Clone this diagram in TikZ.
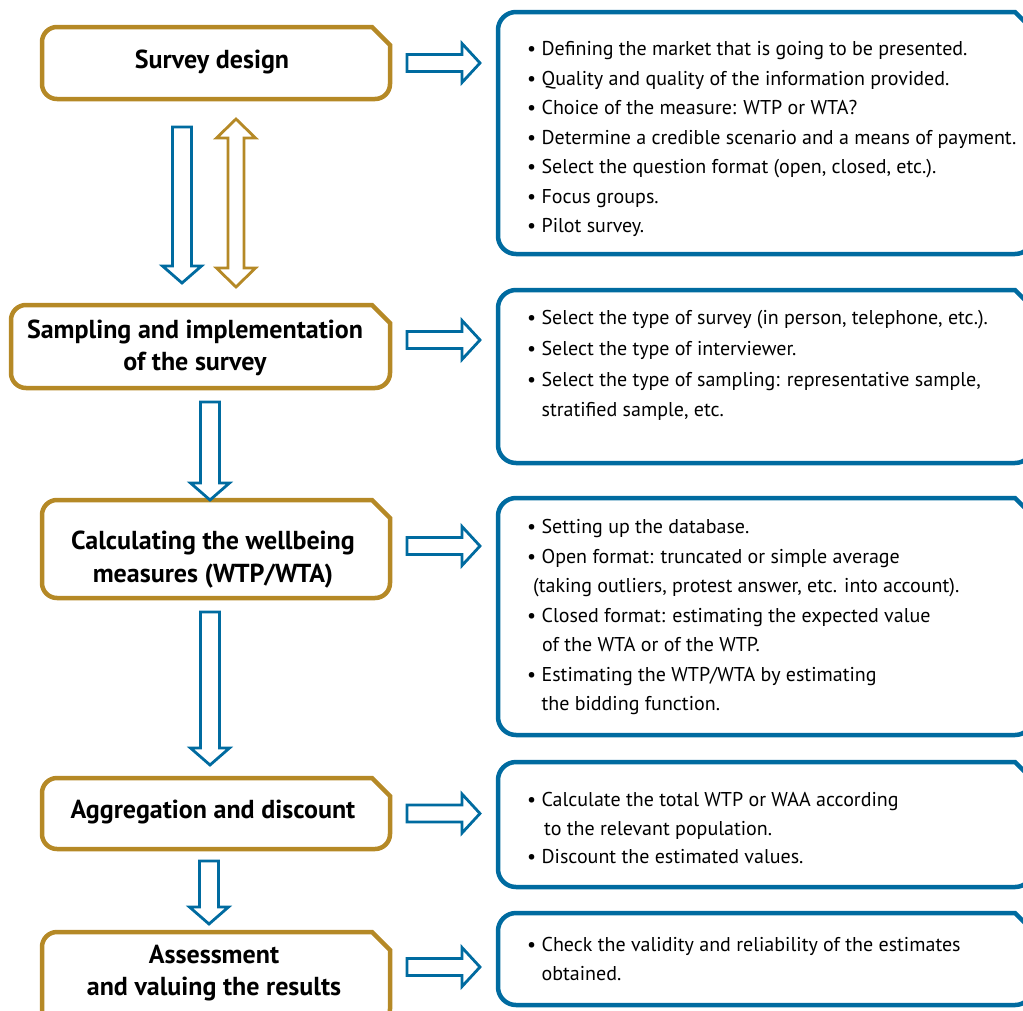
\documentclass[tikz,border=0pt]{standalone}
\usepackage{fontspec}
\setmainfont{PT Sans}
\usetikzlibrary{calc}
\definecolor{gold}{RGB}{181,137,38}
\definecolor{bluec}{RGB}{0,107,160}
\tikzset{
  boxnode/.style={inner sep=0pt, outer sep=0pt},
  title/.style={font=\fontsize{26}{32.5}\selectfont\bfseries, align=center, inner sep=0pt},
  items/.style={font=\fontsize{20}{29.5}\selectfont, align=left, anchor=north west, inner sep=0pt},
  arrowline/.style={line width=2.8pt, line join=miter, fill=white},
}
% box with cut top-right corner: name, colour, radius, line width
\newcommand\cutbox[4]{%
  \draw[draw=#2, line width=#4] let \p1=(#1.north west), \p2=(#1.south east) in
  (\x2-18,\y1) -- (\x2,\y1-18) -- (\x2,\y2+#3) arc(0:-90:#3) -- (\x1+#3,\y2)
  arc(270:180:#3) -- (\x1,\y1-#3) arc(180:90:#3) -- cycle;}
% horizontal block arrow: tail point, length, colour
\newcommand\harrow[3]{%
  \draw[arrowline,draw=#3,shift={#1}] (0,-8.5) -- (#2-18,-8.5) -- (#2-18,-19.5) -- (#2,0)
  -- (#2-18,19.5) -- (#2-18,8.5) -- (0,8.5) -- cycle;}
% vertical (downward) block arrow: tail point, length, colour
\newcommand\varrow[3]{%
  \draw[arrowline,draw=#3,shift={#1}] (-9.5,0) -- (-9.5,-#2+17) -- (-19.5,-#2+17) -- (0,-#2)
  -- (19.5,-#2+17) -- (9.5,-#2+17) -- (9.5,0) -- cycle;}
\begin{document}
\begin{tikzpicture}[x=1pt,y=1pt]
\useasboundingbox (0,0) rectangle (1023,-1010);
% left boxes
\node[boxnode, minimum width=348, minimum height=72] (b1) at (216,-63) {};
\node[boxnode, minimum width=379, minimum height=83] (b2) at (200.5,-346.5) {};
\node[boxnode, minimum width=348, minimum height=98] (b3) at (216,-549) {};
\node[boxnode, minimum width=348, minimum height=71] (b4) at (216,-813.5) {};
\node[boxnode, minimum width=348, minimum height=92] (b5) at (216,-978) {};
\foreach \b in {b1,b2,b3,b4,b5}{\cutbox{\b}{gold}{15}{4.5pt}}
\node[title] (t1) at (212,-62) {Survey design};
\node[title] (t2) at (195,-348) {Sampling and implementation\\of the survey};
\node[title] (t3) at (213,-559.5) {Calculating the wellbeing\\measures (WTP/WTA)};
\node[title] (t4) at (213,-812) {Aggregation and discount};
\node[title] (t5) at (214,-973) {Assessment\\and valuing the results};
% right boxes
\node[boxnode, minimum width=535, minimum height=242] (r1) at (765.5,-133) {};
\node[boxnode, minimum width=535, minimum height=173] (r2) at (765.5,-376.5) {};
\node[boxnode, minimum width=535, minimum height=237] (r3) at (765.5,-616.5) {};
\node[boxnode, minimum width=535, minimum height=125] (r4) at (765.5,-824.5) {};
\node[boxnode, minimum width=535, minimum height=92] (r5) at (765.5,-959) {};
\foreach \r in {r1,r2,r3,r4,r5}{\cutbox{\r}{bluec}{18}{4.5pt}}
\node[items] (i1) at (527,-41.5) {• Defining the market that is going to be presented.\\
• Quality and quality of the information provided.\\
• Choice of the measure: WTP or WTA?\\
• Determine a credible scenario and a means of payment.\\
• Select the question format (open, closed, etc.).\\
• Focus groups.\\
• Pilot survey.};
\node[items, font=\fontsize{20}{30.6}\selectfont] (i2) at (527,-310.5) {• Select the type of survey (in person, telephone, etc.).\\
• Select the type of interviewer.\\
• Select the type of sampling: representative sample,\\
\phantom{• }stratified sample, etc.};
\node[items] (i3) at (527,-519.5) {• Setting up the database.\\
• Open format: truncated or simple average\\
\hspace{6pt}(taking outliers, protest answer, etc. into account).\\
• Closed format: estimating the expected value\\
\hspace{15pt}of the WTA or of the WTP.\\
• Estimating the WTP/WTA by estimating\\
\phantom{• }the bidding function.};
\node[items, font=\fontsize{20}{28.5}\selectfont] (i4) at (527,-792.5) {• Calculate the total WTP or WAA according\\
\hspace{17pt}to the relevant population.\\
• Discount the estimated values.};
\node[items, font=\fontsize{20}{29}\selectfont] (i5) at (527,-937.5) {• Check the validity and reliability of the estimates\\
\phantom{• }obtained.};
% horizontal arrows
\harrow{($(b1.east)+(17,0)$)}{73}{bluec}
\harrow{($(b2.east)+(17,6.5)$)}{73}{bluec}
\harrow{($(b3.east)+(17,3)$)}{73}{bluec}
\harrow{($(b4.east)+(17,0)$)}{73}{bluec}
\harrow{($(b5.east)+(17,11)$)}{73}{bluec}
% vertical arrows
\varrow{($(b1.south)+(-34,-28)$)}{156}{bluec}
\varrow{($(b2.south)+(9.5,-14)$)}{98}{bluec}
\varrow{($(b3.south)+(-6,-14)$)}{153}{bluec}
\varrow{($(b4.south)+(-7,-12)$)}{63}{bluec}
% double arrow between survey design and sampling
\draw[arrowline,draw=gold,shift={($(b1.south)+(20,-20)$)}]
  (0,0) -- (19.5,-19) -- (8,-19) -- (8,-149) -- (19.5,-149) -- (0,-168)
  -- (-19.5,-149) -- (-8,-149) -- (-8,-19) -- (-19.5,-19) -- cycle;
\end{tikzpicture}
\end{document}
